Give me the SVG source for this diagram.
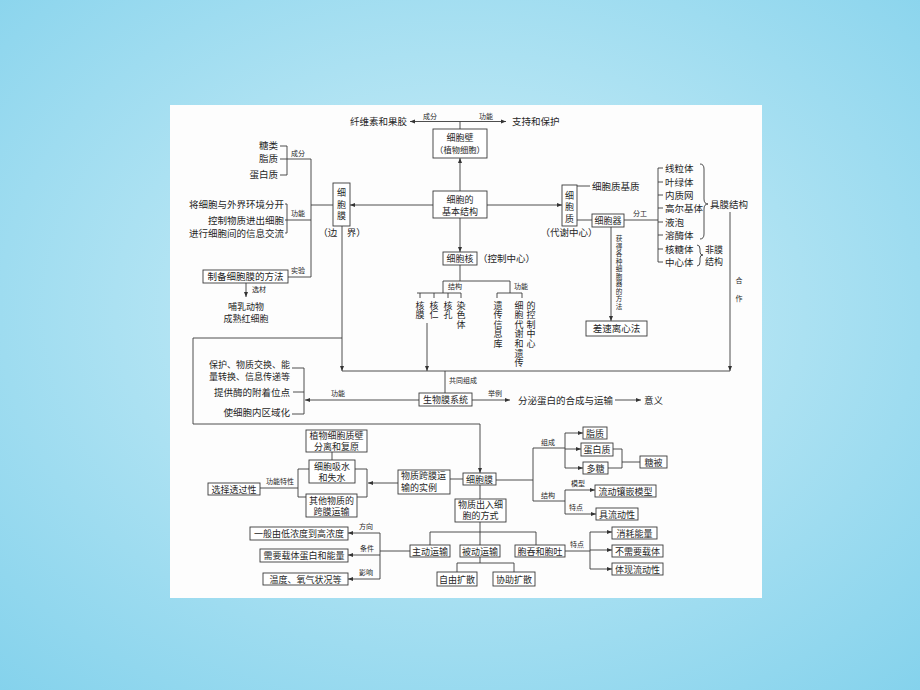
<svg xmlns="http://www.w3.org/2000/svg" width="920" height="690" viewBox="0 0 920 690">
<defs>
<radialGradient id="bg" cx="50%" cy="45%" r="75%">
<stop offset="0" stop-color="#d2f0f8"/>
<stop offset="1" stop-color="#84d2ec"/>
</radialGradient>
<marker id="a" viewBox="0 0 6 6" refX="6" refY="3" markerWidth="5" markerHeight="5" orient="auto" markerUnits="userSpaceOnUse"><path d="M0,0.6 L6,3 L0,5.4z" fill="#333"/></marker>
<style>
text{font-family:"Noto Sans CJK SC","Noto Sans",sans-serif;font-size:9.5px;fill:#262626}
.t{font-size:9px}
.s{font-size:7px}
.v{font-size:6.6px}
.m{text-anchor:middle}
.e{text-anchor:end}
rect{fill:#fff;stroke:#3a3a3a;stroke-width:0.9}
#connectors path,#connectors line{fill:none;stroke:#3a3a3a;stroke-width:0.9}
.ar{marker-end:url(#a)}
</style>
</defs>
<rect x="0" y="0" width="920" height="690" style="fill:url(#bg);stroke:none"/>
<rect x="170" y="105" width="592" height="493" style="fill:#fdfdfd;stroke:none"/>

<g id="connectors">
<line x1="460" y1="121.5" x2="410" y2="121.5" class="ar"/>
<line x1="460" y1="121.5" x2="506" y2="121.5" class="ar"/>
<line x1="460" y1="129" x2="460" y2="121.5"/>
<line x1="460" y1="191" x2="460" y2="158" class="ar"/>
<line x1="433" y1="205" x2="350" y2="205" class="ar"/>
<line x1="487" y1="205" x2="562" y2="205" class="ar"/>
<line x1="460" y1="218" x2="460" y2="252" class="ar"/>
<path d="M280,146 H287 V175 H280 M280,159 H311 V277 M311,205 H333"/>
<path d="M285,204 H287 V233 H285 M285,220 H311"/>
<line x1="288" y1="277" x2="311" y2="277"/>
<line x1="246" y1="283" x2="246" y2="297" class="ar"/>
<line x1="342" y1="226" x2="342" y2="371" class="ar"/>
<path d="M342,338 H193 V424 H480"/>
<line x1="480" y1="424" x2="480" y2="473" class="ar"/>
<line x1="577" y1="186" x2="590" y2="186"/>
<line x1="577" y1="220" x2="592" y2="220"/>
<line x1="624" y1="220" x2="658" y2="220"/>
<path d="M658,168 V262 M658,168 H663 M658,182 H663 M658,195 H663 M658,208 H663 M658,222 H663 M658,235 H663 M658,249 H663 M658,262 H663"/>
<path d="M700,164 Q704,164 704,169 V199 Q704,204 708,204 Q704,204 704,209 V234 Q704,239 700,239"/>
<path d="M697,245 Q700,245 700,249 V252 Q700,255 703,255 Q700,255 700,258 V262 Q700,266 697,266"/>
<line x1="730" y1="212" x2="730" y2="371" class="ar"/>
<line x1="611" y1="227" x2="611" y2="321" class="ar"/>
<path d="M460,265 V281 M443,293 V281 H510 V293 M417,293 H461 M420,293 V298 M434,293 V298 M448,293 V298 M461,293 V298 M497,293 H522 M497,293 V298 M522,293 V298"/>
<line x1="427" y1="323" x2="427" y2="371" class="ar"/>
<line x1="342" y1="371" x2="730" y2="371"/>
<line x1="445" y1="371" x2="445" y2="393"/>
<line x1="419" y1="400" x2="305" y2="400" class="ar"/>
<path d="M292,368 H304 V414 H292 M293,392 H304"/>
<line x1="472" y1="400" x2="510" y2="400" class="ar"/>
<line x1="615" y1="400" x2="641" y2="400" class="ar"/>
<line x1="450" y1="479" x2="463" y2="479"/>
<line x1="398" y1="483" x2="368" y2="483" class="ar"/>
<path d="M309,469 H298 V497 H306 M355,469 H367 V497 H357"/>
<line x1="260" y1="488" x2="298" y2="488"/>
<line x1="332" y1="452" x2="332" y2="460"/>
<path d="M496,480 H533 M533,448 V501 M533,448 H565 V468 M565,433 V448 M533,501 H565 M565,490 V514"/>
<line x1="565" y1="433" x2="583" y2="433" class="ar"/>
<line x1="565" y1="449" x2="581" y2="449" class="ar"/>
<line x1="565" y1="468" x2="583" y2="468" class="ar"/>
<path d="M613,449 H622 V468 H608 M622,462 H640"/>
<line x1="565" y1="490" x2="595" y2="490" class="ar"/>
<line x1="565" y1="514" x2="596" y2="514" class="ar"/>
<line x1="480" y1="485" x2="480" y2="499"/>
<path d="M480,522 V545 M430,545 V532 H536 V545"/>
<path d="M480,557 V563 M457,572 V563 H514 V572"/>
<path d="M410,551 H380 M380,533 V579"/>
<line x1="380" y1="533" x2="348" y2="533" class="ar"/>
<line x1="380" y1="555" x2="348" y2="555" class="ar"/>
<line x1="380" y1="579" x2="348" y2="579" class="ar"/>
<path d="M565,551 H590 M590,532 V569"/>
<line x1="590" y1="532" x2="612" y2="532" class="ar"/>
<line x1="590" y1="550" x2="612" y2="550" class="ar"/>
<line x1="590" y1="569" x2="612" y2="569" class="ar"/>
</g>

<g id="labels">
<text class="s m" x="430" y="119">成分</text>
<text class="s m" x="486" y="119">功能</text>
<text class="s m" x="298" y="156">成分</text>
<text class="s m" x="298" y="216">功能</text>
<text class="s m" x="298" y="273">实验</text>
<text class="s m" x="259" y="292">选材</text>
<text class="s m" x="640" y="216">分工</text>
<text class="s m" x="455" y="289">结构</text>
<text class="s m" x="521" y="289">功能</text>
<text class="s" x="449" y="383">共同组成</text>
<text class="s m" x="338" y="396">功能</text>
<text class="s m" x="495" y="396">举例</text>
<text class="s m" x="280" y="484">功能特性</text>
<text class="s m" x="548" y="445">组成</text>
<text class="s m" x="548" y="498">结构</text>
<text class="s m" x="578" y="486">模型</text>
<text class="s m" x="576" y="510">特点</text>
<text class="s m" x="366" y="529">方向</text>
<text class="s m" x="367" y="551">条件</text>
<text class="s m" x="366" y="575">影响</text>
<text class="s m" x="577" y="547">特点</text>
<text class="s m" x="739" y="283">合</text>
<text class="s m" x="739" y="301">作</text>
<text class="v m" x="619 619 619 619 619 619 619 619 619 619" y="241 248.5 256 263.5 271 278.5 286 293.5 301 308.5">获得各种细胞器的方法</text>
</g>

<g id="n-cellulose"><text class="e" x="407" y="125">纤维素和果胶</text></g>
<g id="n-support"><text x="512" y="125">支持和保护</text></g>
<g id="n-wall"><rect x="433" y="129" width="54" height="29"/><text class="t m" x="460" y="141">细胞壁</text><text class="m" x="460" y="153" style="font-size:8.3px">（植物细胞）</text></g>
<g id="n-basic"><rect x="433" y="191" width="54" height="27"/><text class="t m" x="460" y="202.5">细胞的</text><text class="t m" x="460" y="214.5">基本结构</text></g>
<g id="n-membrane"><rect x="333" y="183" width="17" height="43"/><text class="t m" x="341.5 341.5 341.5" y="196 207.5 219">细胞膜</text><text class="m" x="342" y="236">（边　界）</text></g>
<g id="n-comp"><text class="e" x="278" y="149">糖类</text><text class="e" x="278" y="162">脂质</text><text class="e" x="278" y="178">蛋白质</text></g>
<g id="n-func"><text class="e" x="284" y="207.5">将细胞与外界环境分开</text><text class="e" x="284" y="223.5">控制物质进出细胞</text><text class="e" x="284" y="236.5">进行细胞间的信息交流</text></g>
<g id="n-method"><rect x="203" y="270" width="85" height="13"/><text class="m" x="245.5" y="280">制备细胞膜的方法</text></g>
<g id="n-rbc"><text class="t m" x="246" y="309.5">哺乳动物</text><text class="t m" x="246" y="321.5">成熟红细胞</text></g>
<g id="n-cytoplasm"><rect x="562" y="185" width="15" height="41"/><text class="t m" x="569.5 569.5 569.5" y="198.5 210 221.5">细胞质</text><text class="m" x="569" y="236">（代谢中心）</text></g>
<g id="n-matrix"><text x="592" y="189.5">细胞质基质</text></g>
<g id="n-organelle"><rect x="592" y="214" width="32" height="13"/><text class="t m" x="608" y="224">细胞器</text></g>
<g id="n-organelles"><text x="665" y="171.5">线粒体</text><text x="665" y="185.5">叶绿体</text><text x="665" y="198.5">内质网</text><text x="665" y="211.5">高尔基体</text><text x="665" y="225.5">液泡</text><text x="665" y="238.5">溶酶体</text><text x="665" y="252.5">核糖体</text><text x="665" y="265.5">中心体</text></g>
<g id="n-memstruct"><text x="710" y="207.5">具膜结构</text></g>
<g id="n-nonmem"><text class="t" x="705" y="252.5">非膜</text><text class="t" x="705" y="265">结构</text></g>
<g id="n-centrifuge"><rect x="586" y="321" width="61" height="15"/><text class="m" x="616.5" y="332">差速离心法</text></g>
<g id="n-nucleus"><rect x="443" y="252" width="34" height="13"/><text class="t m" x="460" y="262">细胞核</text><text x="478" y="262">（控制中心）</text></g>
<g id="n-nucparts"><text class="t m" x="420 420" y="308.5 318">核膜</text><text class="t m" x="434 434" y="308.5 318">核仁</text><text class="t m" x="448 448" y="308.5 318">核孔</text><text class="t m" x="461 461 461" y="308.5 318 327.5">染色体</text></g>
<g id="n-nucfunc"><text class="t m" x="498 498 498 498 498" y="308.5 318 327.5 337 347">遗传信息库</text><text class="t m" x="519 519 519 519 519 519 519" y="308.5 318 327.5 337 347 356.5 366">细胞代谢和遗传</text><text class="t m" x="531 531 531 531 531" y="308.5 318 327.5 337 347">的控制中心</text></g>
<g id="n-biosys"><rect x="419" y="393" width="53" height="13"/><text class="t m" x="445.5" y="403">生物膜系统</text></g>
<g id="n-biofunc"><text class="t e" x="290" y="368">保护、物质交换、能</text><text class="t e" x="290" y="380">量转换、信息传递等</text><text class="e" x="290" y="395.5">提供酶的附着位点</text><text class="e" x="290" y="415.5">使细胞内区域化</text></g>
<g id="n-secretion"><text x="518" y="403.5">分泌蛋白的合成与运输</text></g>
<g id="n-meaning"><text x="644" y="403.5">意义</text></g>
<g id="n-pm"><rect x="463" y="473" width="33" height="12"/><text class="t m" x="479.5" y="482.5">细胞膜</text></g>
<g id="n-examples"><rect x="398" y="470" width="52" height="24"/><text class="t" x="401" y="479">物质跨膜运</text><text class="t" x="401" y="490.5">输的实例</text></g>
<g id="n-plasmolysis"><rect x="306" y="430" width="61" height="22"/><text class="t m" x="336.5" y="439">植物细胞质壁</text><text class="t m" x="336.5" y="450">分离和复原</text></g>
<g id="n-water"><rect x="309" y="460" width="46" height="23"/><text class="t m" x="332" y="469.5">细胞吸水</text><text class="t m" x="332" y="480.5">和失水</text></g>
<g id="n-other"><rect x="306" y="494" width="51" height="23"/><text class="t m" x="331.5" y="503.5">其他物质的</text><text class="t m" x="331.5" y="514.5">跨膜运输</text></g>
<g id="n-selective"><rect x="208" y="483" width="52" height="12"/><text class="t m" x="234" y="492.5">选择透过性</text></g>
<g id="n-lipid"><rect x="583" y="427" width="24" height="12"/><text class="t m" x="595" y="436.5">脂质</text></g>
<g id="n-protein"><rect x="581" y="443" width="32" height="13"/><text class="t m" x="597" y="452.5">蛋白质</text></g>
<g id="n-sugar"><rect x="583" y="462" width="25" height="12"/><text class="t m" x="595.5" y="471.5">多糖</text></g>
<g id="n-glycocalyx"><rect x="640" y="456" width="27" height="12"/><text class="t m" x="653.5" y="465.5">糖被</text></g>
<g id="n-model"><rect x="595" y="485" width="61" height="12"/><text class="t m" x="625.5" y="494.5">流动镶嵌模型</text></g>
<g id="n-fluidity"><rect x="596" y="508" width="42" height="12"/><text class="t m" x="617" y="517.5">具流动性</text></g>
<g id="n-ways"><rect x="455" y="499" width="51" height="23"/><text class="t m" x="480.5" y="508">物质出入细</text><text class="t m" x="480.5" y="519">胞的方式</text></g>
<g id="n-active"><rect x="410" y="545" width="40" height="12"/><text class="t m" x="430" y="554.5">主动运输</text></g>
<g id="n-passive"><rect x="460" y="545" width="40" height="12"/><text class="t m" x="480" y="554.5">被动运输</text></g>
<g id="n-endo"><rect x="515" y="545" width="50" height="12"/><text class="t m" x="540" y="554.5">胞吞和胞吐</text></g>
<g id="n-free"><rect x="437" y="572" width="40" height="14"/><text class="t m" x="457" y="582.5">自由扩散</text></g>
<g id="n-facil"><rect x="493" y="572" width="42" height="14"/><text class="t m" x="514" y="582.5">协助扩散</text></g>
<g id="n-dir"><rect x="250" y="527" width="98" height="13"/><text class="t m" x="299" y="537">一般由低浓度到高浓度</text></g>
<g id="n-cond"><rect x="260" y="549" width="88" height="13"/><text class="t m" x="304" y="559">需要载体蛋白和能量</text></g>
<g id="n-infl"><rect x="263" y="573" width="85" height="12"/><text class="t m" x="305.5" y="582.5">温度、氧气状况等</text></g>
<g id="n-energy"><rect x="612" y="527" width="45" height="12"/><text class="t m" x="634.5" y="536.5">消耗能量</text></g>
<g id="n-nocarrier"><rect x="612" y="545" width="51" height="12"/><text class="t m" x="637.5" y="554.5">不需要载体</text></g>
<g id="n-flow"><rect x="612" y="563" width="51" height="12"/><text class="t m" x="637.5" y="572.5">体现流动性</text></g>
</svg>
